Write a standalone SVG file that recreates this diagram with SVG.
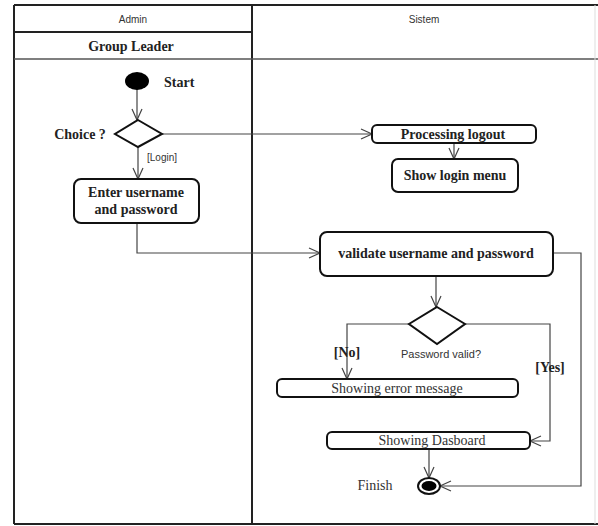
<svg xmlns="http://www.w3.org/2000/svg" width="598" height="526" viewBox="0 0 598 526">
<style>
.frame{fill:none;stroke:#222;stroke-width:2}
.thin{fill:none;stroke:#555;stroke-width:1.2}
.box{fill:#fff;stroke:#111;stroke-width:2}
.conn{fill:none;stroke:#444;stroke-width:1.2}
.b{font-family:"Liberation Serif",serif;font-weight:bold;font-size:14px;fill:#222;text-anchor:middle}
.r{font-family:"Liberation Serif",serif;font-size:14px;fill:#333;text-anchor:middle}
.s{font-family:"Liberation Sans",sans-serif;font-size:10px;fill:#333;text-anchor:middle}
</style>
<defs>
<marker id="arr" markerWidth="14" markerHeight="14" refX="12" refY="6" orient="auto" markerUnits="userSpaceOnUse">
<path d="M1,1 L12,6 L1,11" fill="none" stroke="#444" stroke-width="1.2"/>
</marker>
</defs>
<rect width="598" height="526" fill="#fff"/>
<g id="swimlanes">
<line x1="14" y1="5" x2="598" y2="5" class="frame"/>
<line x1="14" y1="5" x2="14" y2="524" class="frame"/>
<line x1="14" y1="524" x2="598" y2="524" class="frame"/>
<line x1="252" y1="5" x2="252" y2="524" class="frame"/>
<line x1="14" y1="32" x2="252" y2="32" class="frame"/>
<line x1="14" y1="59" x2="598" y2="59" class="thin" style="stroke-width:1.6"/>
<line x1="595" y1="5" x2="595" y2="524" stroke="#ddd" stroke-width="1"/>
<text x="133" y="23" class="s">Admin</text>
<text x="131" y="51" class="b">Group Leader</text>
<text x="424" y="23" class="s">Sistem</text>
</g>
<g id="connectors">
<line x1="137" y1="88" x2="137" y2="120" class="conn" marker-end="url(#arr)"/>
<line x1="162" y1="134" x2="372" y2="134" class="conn" marker-end="url(#arr)"/>
<line x1="138" y1="147" x2="138" y2="179" class="conn" marker-end="url(#arr)"/>
<line x1="454" y1="143" x2="454" y2="159" class="conn" marker-end="url(#arr)"/>
<polyline points="137,223 137,253 320,253" class="conn" marker-end="url(#arr)"/>
<line x1="436" y1="276" x2="436" y2="307" class="conn" marker-end="url(#arr)"/>
<polyline points="409,324 347,324 347,379" class="conn" marker-end="url(#arr)"/>
<polyline points="465,324 550,324 550,441 530,441" class="conn" marker-end="url(#arr)"/>
<polyline points="553,253 581,253 581,486 440,486" class="conn" marker-end="url(#arr)"/>
<line x1="429" y1="449" x2="429" y2="478" class="conn" marker-end="url(#arr)"/>
<text x="162" y="161" class="s">[Login]</text>
<text x="347" y="357" class="b">[No]</text>
<text x="550" y="372" class="b">[Yes]</text>
</g>
<g id="start">
<ellipse cx="137" cy="81" rx="12" ry="9" fill="#000"/>
<text x="164" y="87" class="b" style="text-anchor:start">Start</text>
</g>
<g id="choice">
<polygon points="138,120 162,134 138,147 115,134" class="box"/>
<text x="80" y="139" class="b">Choice ?</text>
</g>
<g id="enter">
<rect x="74" y="179" width="125" height="44" rx="7" class="box"/>
<text x="136" y="197" class="b">Enter username</text>
<text x="136" y="214" class="b">and password</text>
</g>
<g id="logout">
<rect x="372" y="125" width="164" height="18" rx="5" class="box"/>
<text x="453" y="139" class="b">Processing logout</text>
</g>
<g id="loginmenu">
<rect x="392" y="159" width="126" height="33" rx="6" class="box"/>
<text x="455" y="180" class="b">Show login menu</text>
</g>
<g id="validate">
<rect x="320" y="232" width="233" height="44" rx="7" class="box"/>
<text x="436" y="258" class="b">validate username and password</text>
</g>
<g id="pwvalid">
<polygon points="437,307 465,324 437,344 409,324" class="box"/>
<text x="441" y="358" class="s" style="font-size:11px">Password valid?</text>
</g>
<g id="error">
<rect x="277" y="379" width="241" height="18" rx="5" class="box"/>
<text x="397" y="393" class="r">Showing error message</text>
</g>
<g id="dashboard">
<rect x="327" y="432" width="203" height="17" rx="5" class="box"/>
<text x="432" y="445" class="r">Showing Dasboard</text>
</g>
<g id="finish">
<ellipse cx="429" cy="486" rx="11" ry="8" fill="#fff" stroke="#111" stroke-width="2"/>
<ellipse cx="429" cy="486" rx="7.5" ry="5" fill="#000"/>
<text x="375" y="490" class="r">Finish</text>
</g>
</svg>
